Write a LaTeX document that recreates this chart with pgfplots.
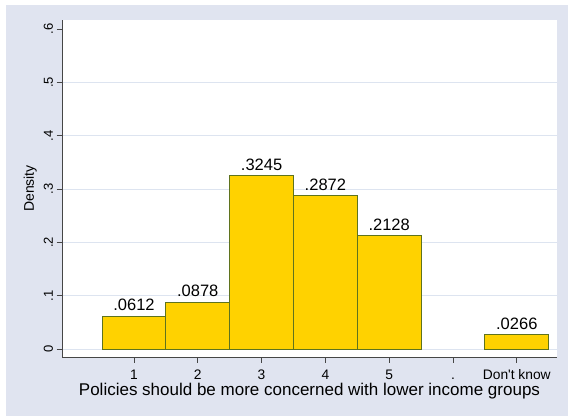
\documentclass[border=0pt]{standalone}
\usepackage{pgfplots}
\pgfplotsset{compat=1.18}
\usepackage{fontspec}
\setmainfont{Liberation Sans}[Ligatures=TeXOff]
\definecolor{bgc}{RGB}{224,228,240}
\definecolor{gridc}{RGB}{221,228,240}
\definecolor{barc}{RGB}{255,210,0}
\definecolor{edgec}{RGB}{95,115,30}
\definecolor{axc}{RGB}{70,70,70}
\begin{document}
\begin{tikzpicture}[x=1pt,y=1pt]
\path[use as bounding box] (0,0) rectangle (568,416);
\fill[white] (0,0) rectangle (568,416);
\fill[bgc] (6,0) rectangle (568,411);
\begin{axis}[
  at={(62pt,59pt)}, anchor=south west,
  scale only axis, width=495pt, height=337pt,
  xmin=-0.128, xmax=7.63, ymin=-0.015, ymax=0.617,
  axis x line*=bottom, axis y line*=left,
  axis line style={axc, line width=0.8pt},
  axis background/.style={fill=white},
  tick style={axc, line width=0.8pt},
  tick align=outside, major tick length=5.5pt,
  /pgf/number format/assume math mode=true,
  xtick={1,2,3,4,5,6,7},
  xticklabels={1,2,3,4,5,.,Don't know},
  xticklabel style={font=\fontsize{13.8}{16}\selectfont, inner sep=1pt, text height=0.75em, text depth=0pt, yshift=-8.5pt},
  ytick={0,0.1,0.2,0.3,0.4,0.5},
  yticklabels={0,.1,.2,.3,.4,.5},
  extra y ticks={0.6},
  extra y tick labels={.6},
  extra y tick style={grid=none},
  yticklabel style={rotate=90, anchor=south, font=\fontsize{13}{15}\selectfont},
  ymajorgrids, grid style={gridc, line width=0.8pt},
  xlabel={Policies should be more concerned with lower income groups},
  xlabel style={font=\fontsize{17}{19}\selectfont, inner sep=0pt, yshift=-2.4pt},
  ylabel={Density},
  ylabel style={font=\fontsize{14}{16}\selectfont},
  ylabel shift=-11pt,
  ybar, bar width=1,
  nodes near coords, point meta=explicit symbolic,
  every node near coord/.append style={font=\fontsize{16.5}{18}\selectfont, text=black, yshift=1.5pt},
]
\addplot[fill=barc, draw=edgec, line width=1pt] coordinates {
  (1,0.0612) [.0612]
  (2,0.0878) [.0878]
  (3,0.3245) [.3245]
  (4,0.2872) [.2872]
  (5,0.2128) [.2128]
  (7,0.0266) [.0266]
};
\end{axis}
\end{tikzpicture}
\end{document}
